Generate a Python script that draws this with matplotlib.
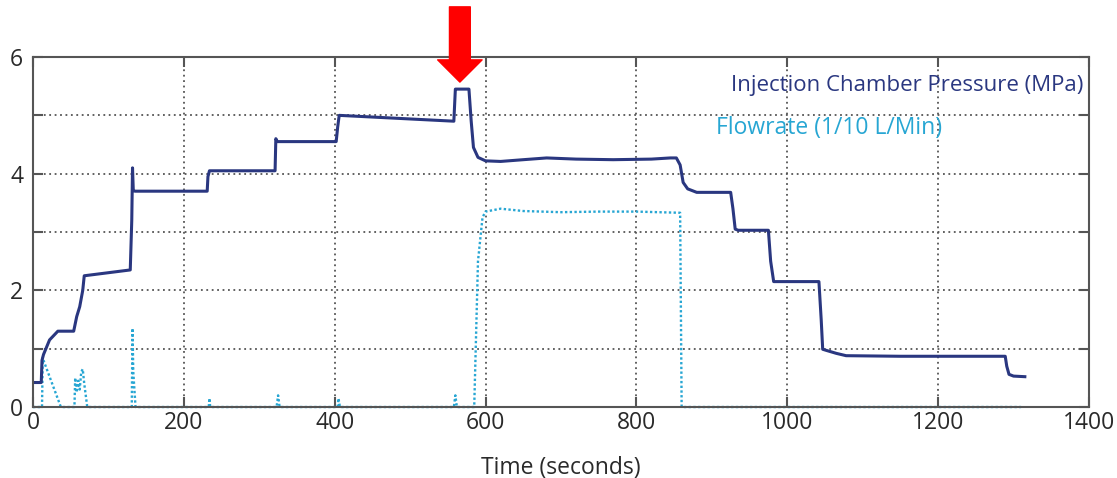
import matplotlib
matplotlib.use('Agg')
import matplotlib.pyplot as plt

plt.rcParams['font.family'] = ['Open Sans', 'DejaVu Sans']

# injection chamber pressure (MPa)
pressure_t = [0, 11, 12, 14, 22, 33, 54, 58, 62, 66, 68, 129, 131, 132, 133, 135,
              231, 232, 234, 321, 322, 324, 402, 404, 406, 558, 560, 561, 578,
              581, 584, 590, 600, 620, 650, 681, 720, 769, 820, 845, 853, 858,
              862, 868, 880, 925, 928, 931, 935, 975, 978, 982, 1042, 1045,
              1047, 1052, 1065, 1078, 1150, 1289, 1291, 1294, 1300, 1315]
pressure_v = [0.42, 0.42, 0.8, 0.9, 1.15, 1.3, 1.3, 1.55, 1.72, 2.0, 2.25, 2.35, 3.2,
              4.1, 3.72, 3.7, 3.7, 3.95, 4.05, 4.05, 4.6, 4.55, 4.55, 4.8, 5.0,
              4.9, 5.45, 5.45, 5.45, 4.9, 4.45, 4.28, 4.22, 4.21, 4.24, 4.27, 4.25,
              4.24, 4.25, 4.27, 4.27, 4.15, 3.85, 3.74, 3.68, 3.68, 3.4, 3.05,
              3.03, 3.03, 2.5, 2.15, 2.15, 1.5, 0.99, 0.97, 0.92, 0.88, 0.87,
              0.87, 0.7, 0.56, 0.53, 0.52]

# flowrate (1/10 L/min)
flow_t = [0, 12, 13, 14, 37, 55, 56, 58, 60, 62, 64, 66, 68, 72, 131, 132, 133,
          135, 136, 233, 234, 235, 323, 325, 327, 404, 405, 407, 558, 560, 562,
          585, 590, 596, 600, 620, 650, 700, 750, 800, 858, 860, 1310]
flow_v = [0, 0, 0.85, 0.8, 0, 0, 0.5, 0.25, 0.45, 0.3, 0.6, 0.65, 0.4, 0, 0, 1.35,
          0.6, 0.2, 0, 0, 0.15, 0, 0, 0.2, 0, 0, 0.15, 0, 0, 0.2, 0, 0, 2.5,
          3.25, 3.35, 3.4, 3.36, 3.34, 3.35, 3.35, 3.33, 0, 0]

xticks = [0, 200, 400, 600, 800, 1000, 1200, 1400]
yticks = [0, 1, 2, 3, 4, 5, 6]
ytick_labels = ['0', '', '2', '', '4', '', '6']

navy = '#2a3780'
cyan = '#27a6d3'
frame = '#555555'

fig = plt.figure(figsize=(11.17, 4.78), dpi=100)
ax = fig.add_axes([0.0295, 0.1485, 0.9454, 0.7322])

ax.plot(flow_t, flow_v, color=cyan, lw=1.7, ls=(0, (1, 1)), clip_on=False)
ax.plot(pressure_t, pressure_v, color=navy, lw=2.2)

ax.set_xlim(0, 1400)
ax.set_ylim(0, 6)
ax.set_xticks(xticks)
ax.set_yticks(yticks)
ax.set_yticklabels(ytick_labels)
ax.grid(True, color='#555555', ls=(0, (1, 2)), lw=1.3)
ax.tick_params(direction='in', top=True, right=True, length=7, width=1.5,
               color=frame, labelsize=16.5, labelcolor='#2a2a2a', pad=3)
ax.tick_params(axis='y', pad=7)
for s in ax.spines.values():
    s.set_color(frame)
    s.set_linewidth(1.5)
ax.set_xlabel('Time (seconds)', fontsize=16.5, color='#2a2a2a', labelpad=15)

ax.text(0.9943, 0.92, 'Injection Chamber Pressure (MPa)', transform=ax.transAxes,
        ha='right', va='center', fontsize=16, color=navy)
ax.text(0.647, 0.797, 'Flowrate (1/10 L/Min)', transform=ax.transAxes,
        ha='left', va='center', fontsize=16.5, color=cyan)

# red arrow pointing at the peak
ax.annotate('', xy=(566, 5.57), xytext=(566, 6.86), annotation_clip=False,
            arrowprops=dict(arrowstyle='simple,head_length=16,head_width=32,tail_width=15',
                            mutation_scale=1, color='#ff0000', shrinkA=0, shrinkB=0))

fig.savefig('out.png', dpi=100)
